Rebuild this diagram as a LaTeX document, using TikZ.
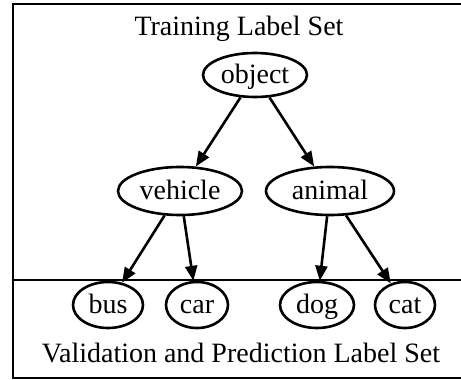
\documentclass[tikz,border=0pt]{standalone}
\usepackage{fontspec}
\setmainfont{Liberation Serif}
\usetikzlibrary{arrows.meta,shapes.geometric}
\tikzset{
  lbl/.style={ellipse, draw, line width=2.6pt, inner sep=0pt,
              text height=21pt, text depth=4pt},
  edge/.style={line width=2.6pt, -{Triangle[length=15pt,width=12pt]}},
  frame/.style={line width=2.6pt},
  caption/.style={inner sep=0pt, anchor=base}
}
\begin{document}
\begin{tikzpicture}[x=1pt, y=-1pt, font=\fontsize{28}{32}\selectfont]
  \useasboundingbox (0,0) rectangle (461,380);
  % outer frame (open to the right) and the split between the two label sets
  \draw[frame] (462,4) -- (13,4) -- (13,378) -- (462,378);
  \draw[frame] (13,280) -- (462,280);

  \node[caption] (train) at (239,35) {Training Label Set};
  \node[caption] (valid) at (241,362) {Validation and Prediction Label Set};

  % hierarchy
  \node[lbl, minimum width=104pt, minimum height=44pt] (object)  at (255,75)  {object};
  \node[lbl, minimum width=124pt, minimum height=48pt] (vehicle) at (180,191) {vehicle};
  \node[lbl, minimum width=128pt, minimum height=48pt] (animal)  at (330,191) {animal};
  \node[lbl, minimum width=70pt,  minimum height=46pt] (bus)     at (108,305) {bus};
  \node[lbl, minimum width=62pt,  minimum height=46pt] (car)     at (197,305) {car};
  \node[lbl, minimum width=74pt,  minimum height=46pt] (dog)     at (317,305) {dog};
  \node[lbl, minimum width=60pt,  minimum height=46pt] (cat)     at (405,305) {cat};

  \draw[edge] (object) -- (vehicle);
  \draw[edge] (object) -- (animal);
  \draw[edge] (vehicle) -- (bus);
  \draw[edge] (vehicle) -- (car);
  \draw[edge] (animal) -- (dog);
  \draw[edge] (animal) -- (cat);
\end{tikzpicture}
\end{document}
